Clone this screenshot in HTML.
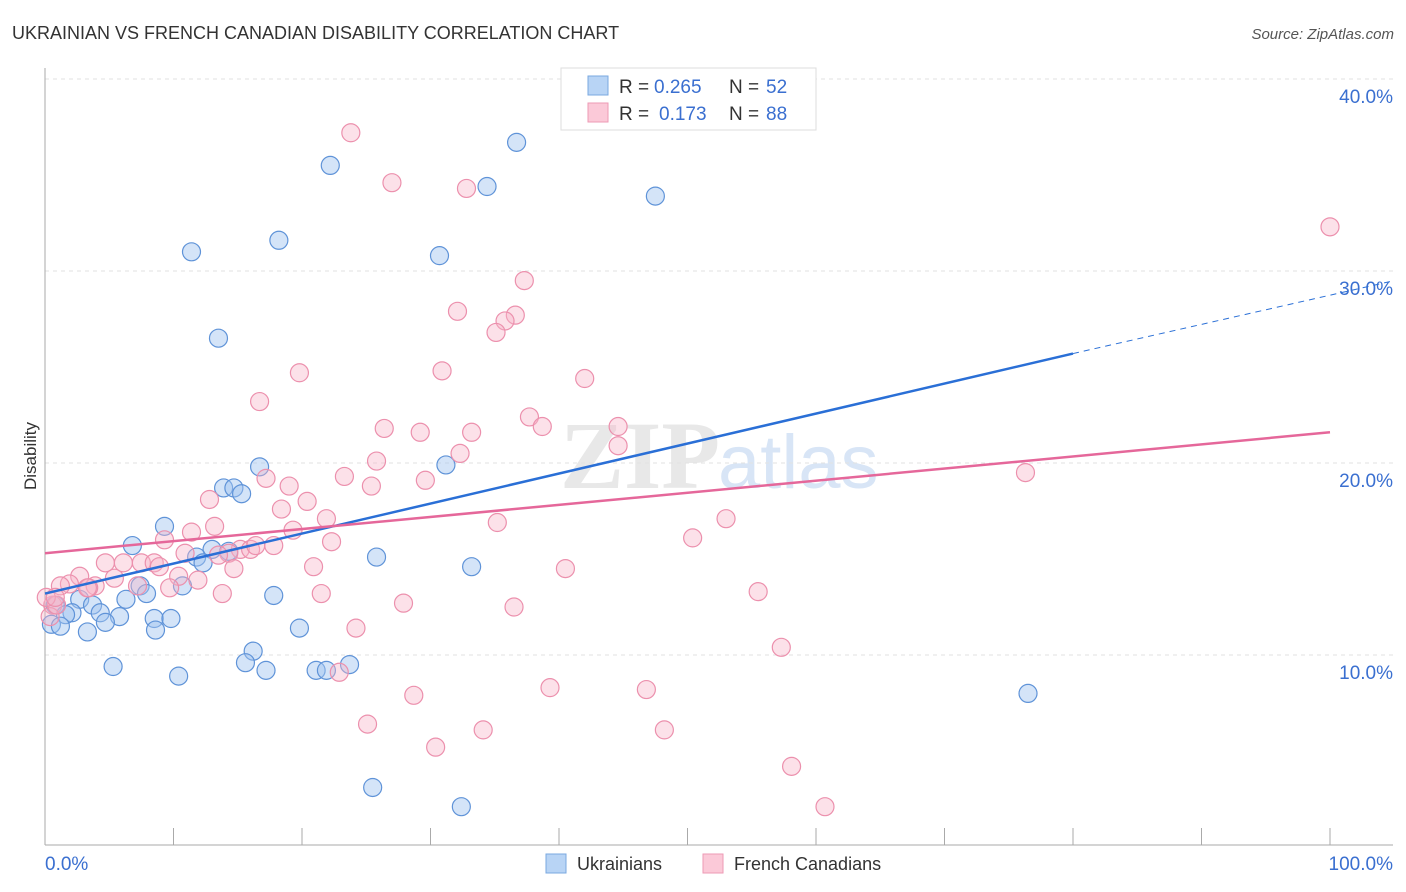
<!DOCTYPE html>
<html><head><meta charset="utf-8"><style>
body{margin:0;background:#fff;font-family:"Liberation Sans",sans-serif}
svg{display:block}
</style></head><body>
<svg width="1406" height="892" id="chart">
<text x="12" y="39" font-size="18" fill="#333">UKRAINIAN VS FRENCH CANADIAN DISABILITY CORRELATION CHART</text>
<text x="1394" y="39" font-size="15" fill="#555" font-style="italic" text-anchor="end">Source: ZipAtlas.com</text>
<text x="720" y="488" font-size="96" fill="#e8e8e8" text-anchor="end" font-family="Liberation Serif" font-weight="bold">ZIP</text>
<text x="718" y="488" font-size="76" fill="#d8e5f6">atlas</text>
<g id="grid"></g>
<g id="marks"></g>
<text x="36" y="456" font-size="17" fill="#333" text-anchor="middle" transform="rotate(-90 36 456)">Disability</text>
<g>
<rect x="561" y="68" width="255" height="62" fill="#fff" stroke="#ddd"/>
<rect x="588" y="76" width="20" height="19" fill="#b8d4f5" stroke="#7aa8e0"/>
<rect x="588" y="103" width="20" height="19" fill="#fbc9d8" stroke="#ee9ab5"/>
<text x="619" y="93" font-size="19" fill="#333">R =</text>
<text x="654" y="93" font-size="19" fill="#3a6fd0">0.265</text>
<text x="729" y="93" font-size="19" fill="#333">N =</text>
<text x="766" y="93" font-size="19" fill="#3a6fd0">52</text>
<text x="619" y="120" font-size="19" fill="#333">R =</text>
<text x="659" y="120" font-size="19" fill="#3a6fd0">0.173</text>
<text x="729" y="120" font-size="19" fill="#333">N =</text>
<text x="766" y="120" font-size="19" fill="#3a6fd0">88</text>
</g>
<g>
<rect x="546" y="854" width="20" height="19" fill="#b8d4f5" stroke="#7aa8e0"/>
<text x="577" y="870" font-size="18" fill="#333">Ukrainians</text>
<rect x="703" y="854" width="20" height="19" fill="#fbc9d8" stroke="#ee9ab5"/>
<text x="734" y="870" font-size="18" fill="#333">French Canadians</text>
</g>
</svg>
<script>
const yTicks=[10,20,30,40];
const yTickLabels=["10.0%","20.0%","30.0%","40.0%"];
const xEndLabels=["0.0%","100.0%"];
const blueX=[36.7,22.2,34.4,47.5,18.2,11.4,30.7,13.5,16.7,31.2,13.9,14.7,15.3,9.3,6.8,13.0,14.3,11.8,12.3,25.8,33.2,7.4,10.7,7.9,6.3,17.8,2.7,3.7,0.8,4.3,2.1,1.6,5.8,4.7,8.5,9.8,0.5,1.2,8.6,3.3,19.8,16.2,5.3,15.6,23.7,17.2,21.1,21.9,10.4,76.5,25.5,32.4];
const blueY=[36.7,35.5,34.4,33.9,31.6,31.0,30.8,26.5,19.8,19.9,18.7,18.7,18.4,16.7,15.7,15.5,15.4,15.1,14.8,15.1,14.6,13.6,13.6,13.2,12.9,13.1,12.9,12.6,12.6,12.2,12.2,12.1,12.0,11.7,11.9,11.9,11.6,11.5,11.3,11.2,11.4,10.2,9.4,9.6,9.5,9.2,9.2,9.2,8.9,8.0,3.1,2.1];
const pinkX=[23.8,27.0,32.8,100,37.3,32.1,36.6,35.8,35.1,19.8,30.9,42.0,16.7,37.7,26.4,38.7,29.2,33.2,44.6,44.6,32.3,25.8,23.3,25.4,29.6,76.3,17.2,19.0,12.8,20.4,18.4,21.9,35.2,13.2,53.0,19.3,11.4,9.3,22.3,50.4,17.8,15.2,16.0,16.4,10.9,14.3,13.5,7.5,4.7,6.1,8.5,8.9,14.7,20.9,40.5,2.7,10.4,5.4,11.9,3.9,3.4,1.9,1.2,9.7,7.2,13.8,21.5,55.5,27.9,36.5,0.6,0.4,0.9,24.2,57.3,22.9,28.7,39.3,46.8,25.1,34.1,48.2,30.4,58.1,60.7,0.1,0.8,3.3];
const pinkY=[37.2,34.6,34.3,32.3,29.5,27.9,27.7,27.4,26.8,24.7,24.8,24.4,23.2,22.4,21.8,21.9,21.6,21.6,21.9,20.9,20.5,20.1,19.3,18.8,19.1,19.5,19.2,18.8,18.1,18.0,17.6,17.1,16.9,16.7,17.1,16.5,16.4,16.0,15.9,16.1,15.7,15.5,15.5,15.7,15.3,15.3,15.2,14.8,14.8,14.8,14.8,14.6,14.5,14.6,14.5,14.1,14.1,14.0,13.9,13.6,13.5,13.7,13.6,13.5,13.6,13.2,13.2,13.3,12.7,12.5,12.6,12.0,12.6,11.4,10.4,9.1,7.9,8.3,8.2,6.4,6.1,6.1,5.2,4.2,2.1,13.0,13.0,13.5];
const blueTrend=[13.2,25.7,29.5];
const blueTrendX=[0,80,105];
const pinkTrend=[15.3,21.6];
const pinkTrendX=[0,100];

const NS="http://www.w3.org/2000/svg";
const sx=v=>45+v*12.85;
const sy=v=>847-v*19.2;
function mk(tag,attrs,parent){const e=document.createElementNS(NS,tag);for(const k in attrs)e.setAttribute(k,attrs[k]);parent.appendChild(e);return e;}
const grid=document.getElementById('grid'),marks=document.getElementById('marks');
yTicks.forEach((t,i)=>{
 const l=mk('line',{x1:45,x2:1393,y1:sy(t),y2:sy(t),stroke:'#e2e2e2','stroke-dasharray':'4,4'},grid);
 
 
 const tx=mk('text',{x:1393,y:sy(t)+24,'font-size':19,fill:'#3a6fd0','text-anchor':'end'},grid);
 tx.textContent=yTickLabels[i];
 
 
});
const topL=mk('line',{x1:45,x2:1393,y1:79,y2:79,stroke:'#e2e2e2','stroke-dasharray':'4,4'},grid);


const ya=mk('line',{x1:45,x2:45,y1:68,y2:845,stroke:'#aaa'},grid);


const xa=mk('line',{x1:45,x2:1393,y1:845,y2:845,stroke:'#aaa'},grid);


for(let k=0;k<=10;k++){
 const t=mk('line',{x1:sx(k*10),x2:sx(k*10),y1:828,y2:845,stroke:'#aaa'},grid);
 
 
}
[[0,'start'],[100,'end']].forEach((p,i)=>{
 const tx=mk('text',{x:i?1393:45,y:870,'font-size':19,fill:'#3a6fd0','text-anchor':p[1]},grid);
 tx.textContent=xEndLabels[i];
 
 
});
blueX.forEach((x,i)=>{
 const c=mk('circle',{cx:sx(x),cy:sy(blueY[i]),r:9,fill:'rgba(160,196,240,0.45)',stroke:'#5f93d8','stroke-width':1.2},marks);
 
 
});
pinkX.forEach((x,i)=>{
 const c=mk('circle',{cx:sx(x),cy:sy(pinkY[i]),r:9,fill:'rgba(248,180,200,0.4)',stroke:'#ec90ad','stroke-width':1.2},marks);
 
 
});
const bl=mk('line',{x1:sx(blueTrendX[0]),y1:sy(blueTrend[0]),x2:sx(blueTrendX[1]),y2:sy(blueTrend[1]),stroke:'#2a6fd6','stroke-width':2.5},marks);


const bd=mk('line',{x1:sx(blueTrendX[1]),y1:sy(blueTrend[1]),x2:sx(blueTrendX[2]),y2:sy(blueTrend[2]),stroke:'#2a6fd6','stroke-width':1,'stroke-dasharray':'6,5'},marks);


const pl=mk('line',{x1:sx(pinkTrendX[0]),y1:sy(pinkTrend[0]),x2:sx(pinkTrendX[1]),y2:sy(pinkTrend[1]),stroke:'#e5679a','stroke-width':2.5},marks);


</script>
</body></html>
